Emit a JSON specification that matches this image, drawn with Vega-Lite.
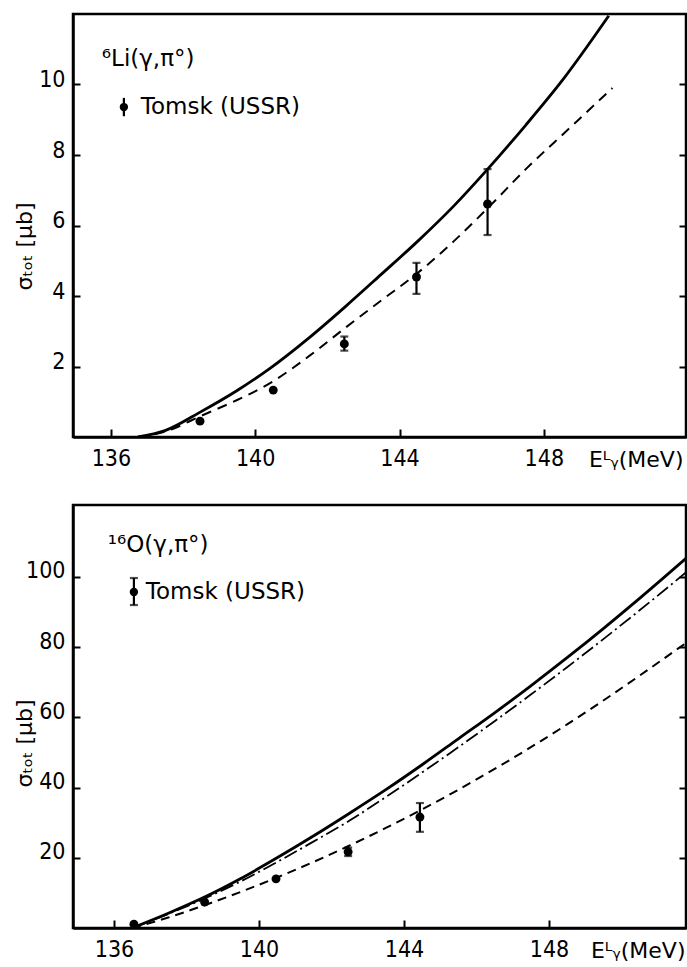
{
  "$schema": "https://vega.github.io/schema/vega-lite/v6.json",
  "padding": {"left": 11, "top": 12, "right": 0, "bottom": 0},
  "background": "white",
  "spacing": 68,
  "bounds": "flush",
  "config": {
    "view": {"stroke": "black", "strokeWidth": 2.5},
    "axis": {
      "grid": false,
      "domainColor": "black",
      "domainWidth": 2.5,
      "tickColor": "black",
      "tickWidth": 2,
      "labelColor": "black",
      "titleColor": "black",
      "labelFont": "Liberation Sans Narrow, DejaVu Sans Condensed, Liberation Sans",
      "labelFontSize": 23,
      "titleFont": "DejaVu Sans",
      "titleFontWeight": "normal"
    },
    "text": {"font": "DejaVu Sans", "color": "black"}
  },
  "datasets": {
    "li_curves": [
      {"c": "solid", "E": 136.75, "s": 0},
      {"c": "solid", "E": 137.5, "s": 0.18},
      {"c": "solid", "E": 138.5, "s": 0.72},
      {"c": "solid", "E": 139.5, "s": 1.32},
      {"c": "solid", "E": 140.4, "s": 1.94},
      {"c": "solid", "E": 141.5, "s": 2.82},
      {"c": "solid", "E": 142.5, "s": 3.7},
      {"c": "solid", "E": 143.5, "s": 4.62},
      {"c": "solid", "E": 144.5, "s": 5.55},
      {"c": "solid", "E": 145.5, "s": 6.55},
      {"c": "solid", "E": 146.4, "s": 7.55},
      {"c": "solid", "E": 147.5, "s": 8.85},
      {"c": "solid", "E": 148.5, "s": 10.1},
      {"c": "solid", "E": 149.8, "s": 11.95},
      {"c": "dashed", "E": 136.75, "s": 0},
      {"c": "dashed", "E": 137.5, "s": 0.15},
      {"c": "dashed", "E": 138.5, "s": 0.6},
      {"c": "dashed", "E": 139.5, "s": 1.05},
      {"c": "dashed", "E": 140.4, "s": 1.52},
      {"c": "dashed", "E": 141.5, "s": 2.3},
      {"c": "dashed", "E": 142.5, "s": 3.1},
      {"c": "dashed", "E": 143.5, "s": 3.88},
      {"c": "dashed", "E": 144.5, "s": 4.65},
      {"c": "dashed", "E": 145.5, "s": 5.55},
      {"c": "dashed", "E": 146.5, "s": 6.55},
      {"c": "dashed", "E": 147.5, "s": 7.6},
      {"c": "dashed", "E": 148.7, "s": 8.75},
      {"c": "dashed", "E": 149.9, "s": 9.9}
    ],
    "li_pts": [
      {"E": 138.47, "s": 0.45},
      {"E": 140.5, "s": 1.33},
      {"E": 142.47, "s": 2.64, "lo": 2.45, "hi": 2.85},
      {"E": 144.47, "s": 4.54, "lo": 4.06, "hi": 4.94},
      {"E": 146.44, "s": 6.61, "lo": 5.73, "hi": 7.6}
    ],
    "li_leg": [
      {"E": 136.36, "s": 9.36, "lo": 9.1, "hi": 9.62}
    ],
    "li_text": [
      {"E": 135.75, "s": 10.72, "t": "⁶Li(γ,π°)"},
      {"E": 136.83, "s": 9.36, "t": "Tomsk (USSR)"}
    ],
    "o_curves": [
      {"c": "solid", "E": 136.5, "s": 0},
      {"c": "solid", "E": 137.5, "s": 4.2},
      {"c": "solid", "E": 138.5, "s": 8.8},
      {"c": "solid", "E": 139.5, "s": 14.1},
      {"c": "solid", "E": 140.5, "s": 20.0},
      {"c": "solid", "E": 141.5, "s": 26.2},
      {"c": "solid", "E": 142.5, "s": 32.7},
      {"c": "solid", "E": 143.5, "s": 39.4},
      {"c": "solid", "E": 144.5, "s": 46.5},
      {"c": "solid", "E": 145.5, "s": 53.9},
      {"c": "solid", "E": 146.5, "s": 61.3},
      {"c": "solid", "E": 147.5, "s": 69.0},
      {"c": "solid", "E": 148.5, "s": 77.0},
      {"c": "solid", "E": 149.5, "s": 85.3},
      {"c": "solid", "E": 150.5, "s": 93.9},
      {"c": "solid", "E": 151.78, "s": 105.3},
      {"c": "dashdot", "E": 136.5, "s": 0},
      {"c": "dashdot", "E": 137.5, "s": 4.0},
      {"c": "dashdot", "E": 138.5, "s": 8.4},
      {"c": "dashdot", "E": 139.5, "s": 13.3},
      {"c": "dashdot", "E": 140.5, "s": 18.8},
      {"c": "dashdot", "E": 141.5, "s": 24.6},
      {"c": "dashdot", "E": 142.5, "s": 30.6},
      {"c": "dashdot", "E": 143.5, "s": 37.3},
      {"c": "dashdot", "E": 144.5, "s": 44.3},
      {"c": "dashdot", "E": 145.5, "s": 51.5},
      {"c": "dashdot", "E": 146.5, "s": 58.9},
      {"c": "dashdot", "E": 147.5, "s": 66.5},
      {"c": "dashdot", "E": 148.5, "s": 74.3},
      {"c": "dashdot", "E": 149.5, "s": 82.3},
      {"c": "dashdot", "E": 150.5, "s": 90.5},
      {"c": "dashdot", "E": 151.78, "s": 101.3},
      {"c": "dashed", "E": 136.5, "s": 0},
      {"c": "dashed", "E": 137.5, "s": 3.0},
      {"c": "dashed", "E": 138.5, "s": 6.5},
      {"c": "dashed", "E": 139.5, "s": 10.3},
      {"c": "dashed", "E": 140.5, "s": 14.4},
      {"c": "dashed", "E": 141.5, "s": 18.8},
      {"c": "dashed", "E": 142.5, "s": 23.5},
      {"c": "dashed", "E": 143.5, "s": 28.5},
      {"c": "dashed", "E": 144.5, "s": 33.8},
      {"c": "dashed", "E": 145.5, "s": 39.4},
      {"c": "dashed", "E": 146.5, "s": 45.3},
      {"c": "dashed", "E": 147.5, "s": 51.5},
      {"c": "dashed", "E": 148.5, "s": 58.0},
      {"c": "dashed", "E": 149.5, "s": 64.8},
      {"c": "dashed", "E": 150.5, "s": 71.9},
      {"c": "dashed", "E": 151.78, "s": 81.2}
    ],
    "o_pts": [
      {"E": 136.55, "s": 1.1},
      {"E": 138.5, "s": 7.4},
      {"E": 140.47, "s": 14.0},
      {"E": 142.46, "s": 21.7, "lo": 20.5, "hi": 22.9},
      {"E": 144.44, "s": 31.6, "lo": 27.4, "hi": 35.6}
    ],
    "o_leg": [
      {"E": 136.55, "s": 95.7, "lo": 92.0, "hi": 99.7}
    ],
    "o_text": [
      {"E": 135.83, "s": 109.1, "t": "¹⁶O(γ,π°)"},
      {"E": 136.88, "s": 95.7, "t": "Tomsk (USSR)"}
    ]
  },
  "vconcat": [
    {
      "width": 613,
      "height": 423,
      "resolve": {"axis": {"y": "independent"}},
      "layer": [
        {
          "data": {"name": "li_curves"},
          "transform": [{"filter": "datum.c === 'dashed'"}],
          "mark": {"type": "line", "color": "black", "strokeWidth": 2, "strokeDash": [10, 7], "interpolate": "monotone", "clip": true},
          "encoding": {
            "x": {"field": "E", "type": "quantitative", "scale": {"domain": [134.95, 151.94], "nice": false, "zero": false},
              "axis": {"values": [136, 140, 144, 148], "tickSize": -8, "labelPadding": 18, "title": "Eᴸᵧ(MeV)", "titleFont": "DejaVu Sans", "titleFontSize": 22, "titleX": 610, "titleY": 22, "titleAlign": "right", "titleBaseline": "middle"}},
            "y": {"field": "s", "type": "quantitative", "scale": {"domain": [0, 12], "nice": false},
              "axis": {"values": [2, 4, 6, 8, 10], "tickSize": -7, "labelPadding": 15, "labelOffset": -5, "title": "σₜₒₜ [μb]", "titleFontSize": 22, "titleX": -49, "titleY": 232, "titleBaseline": "middle", "titleAlign": "center"}}
          }
        },
        {
          "data": {"name": "li_curves"},
          "transform": [{"filter": "datum.c === 'solid'"}],
          "mark": {"type": "line", "color": "black", "strokeWidth": 2.8, "interpolate": "monotone", "clip": true},
          "encoding": {
            "x": {"field": "E", "type": "quantitative", "scale": {"domain": [134.95, 151.94], "nice": false, "zero": false}},
            "y": {"field": "s", "type": "quantitative", "scale": {"domain": [0, 12], "nice": false},
              "axis": {"orient": "right", "values": [2, 4, 6, 8, 10], "tickSize": -7, "labels": false, "domain": false, "title": null}}
          }
        },
        {
          "data": {"name": "li_pts"},
          "transform": [{"filter": "datum.lo != null"}],
          "mark": {"type": "errorbar", "orient": "vertical", "ticks": true, "size": 8, "thickness": 2.2, "color": "black"},
          "encoding": {
            "x": {"field": "E", "type": "quantitative", "scale": {"domain": [134.95, 151.94], "nice": false, "zero": false}},
            "y": {"field": "lo", "type": "quantitative", "scale": {"domain": [0, 12], "nice": false}, "axis": null},
            "y2": {"field": "hi"}
          }
        },
        {
          "data": {"name": "li_pts"},
          "mark": {"type": "point", "filled": true, "shape": "circle", "size": 80, "color": "black", "opacity": 1},
          "encoding": {
            "x": {"field": "E", "type": "quantitative", "scale": {"domain": [134.95, 151.94], "nice": false, "zero": false}},
            "y": {"field": "s", "type": "quantitative", "scale": {"domain": [0, 12], "nice": false}, "axis": null}
          }
        },
        {
          "data": {"name": "li_leg"},
          "mark": {"type": "rule", "color": "black", "strokeWidth": 2.2},
          "encoding": {
            "x": {"field": "E", "type": "quantitative", "scale": {"domain": [134.95, 151.94], "nice": false, "zero": false}},
            "y": {"field": "lo", "type": "quantitative", "scale": {"domain": [0, 12], "nice": false}, "axis": null},
            "y2": {"field": "hi"}
          }
        },
        {
          "data": {"name": "li_leg"},
          "mark": {"type": "point", "filled": true, "shape": "circle", "size": 70, "color": "black", "opacity": 1},
          "encoding": {
            "x": {"field": "E", "type": "quantitative", "scale": {"domain": [134.95, 151.94], "nice": false, "zero": false}},
            "y": {"field": "s", "type": "quantitative", "scale": {"domain": [0, 12], "nice": false}, "axis": null}
          }
        },
        {
          "data": {"name": "li_text"},
          "mark": {"type": "text", "align": "left", "baseline": "middle", "fontSize": 23, "font": "DejaVu Sans", "color": "black"},
          "encoding": {
            "x": {"field": "E", "type": "quantitative", "scale": {"domain": [134.95, 151.94], "nice": false, "zero": false}},
            "y": {"field": "s", "type": "quantitative", "scale": {"domain": [0, 12], "nice": false}, "axis": null},
            "text": {"field": "t"}
          }
        }
      ]
    },
    {
      "width": 613,
      "height": 423,
      "resolve": {"axis": {"y": "independent"}},
      "layer": [
        {
          "data": {"name": "o_curves"},
          "transform": [{"filter": "datum.c === 'dashed'"}],
          "mark": {"type": "line", "color": "black", "strokeWidth": 2, "strokeDash": [9, 6], "interpolate": "monotone", "clip": true},
          "encoding": {
            "x": {"field": "E", "type": "quantitative", "scale": {"domain": [134.87, 151.78], "nice": false, "zero": false},
              "axis": {"values": [136, 140, 144, 148], "tickSize": -8, "labelPadding": 18, "title": "Eᴸᵧ(MeV)", "titleFont": "DejaVu Sans", "titleFontSize": 22, "titleX": 612, "titleY": 22, "titleAlign": "right", "titleBaseline": "middle"}},
            "y": {"field": "s", "type": "quantitative", "scale": {"domain": [0, 120.5], "nice": false},
              "axis": {"values": [20, 40, 60, 80, 100], "tickSize": -7, "labelPadding": 15, "labelOffset": -6, "title": "σₜₒₜ [μb]", "titleFontSize": 22, "titleX": -49, "titleY": 238, "titleBaseline": "middle", "titleAlign": "center"}}
          }
        },
        {
          "data": {"name": "o_curves"},
          "transform": [{"filter": "datum.c === 'solid'"}],
          "mark": {"type": "line", "color": "black", "strokeWidth": 2.8, "interpolate": "monotone", "clip": true},
          "encoding": {
            "x": {"field": "E", "type": "quantitative", "scale": {"domain": [134.87, 151.78], "nice": false, "zero": false}},
            "y": {"field": "s", "type": "quantitative", "scale": {"domain": [0, 120.5], "nice": false},
              "axis": {"orient": "right", "values": [20, 40, 60, 80, 100], "tickSize": -7, "labels": false, "domain": false, "title": null}}
          }
        },
        {
          "data": {"name": "o_curves"},
          "transform": [{"filter": "datum.c === 'dashdot'"}],
          "mark": {"type": "line", "color": "black", "strokeWidth": 1.8, "strokeDash": [14, 4, 2, 4], "interpolate": "monotone", "clip": true},
          "encoding": {
            "x": {"field": "E", "type": "quantitative", "scale": {"domain": [134.87, 151.78], "nice": false, "zero": false}},
            "y": {"field": "s", "type": "quantitative", "scale": {"domain": [0, 120.5], "nice": false}, "axis": null}
          }
        },
        {
          "data": {"name": "o_pts"},
          "transform": [{"filter": "datum.lo != null"}],
          "mark": {"type": "errorbar", "orient": "vertical", "ticks": true, "size": 8, "thickness": 2.2, "color": "black"},
          "encoding": {
            "x": {"field": "E", "type": "quantitative", "scale": {"domain": [134.87, 151.78], "nice": false, "zero": false}},
            "y": {"field": "lo", "type": "quantitative", "scale": {"domain": [0, 120.5], "nice": false}, "axis": null},
            "y2": {"field": "hi"}
          }
        },
        {
          "data": {"name": "o_pts"},
          "mark": {"type": "point", "filled": true, "shape": "circle", "size": 80, "color": "black", "opacity": 1},
          "encoding": {
            "x": {"field": "E", "type": "quantitative", "scale": {"domain": [134.87, 151.78], "nice": false, "zero": false}},
            "y": {"field": "s", "type": "quantitative", "scale": {"domain": [0, 120.5], "nice": false}, "axis": null}
          }
        },
        {
          "data": {"name": "o_leg"},
          "mark": {"type": "errorbar", "orient": "vertical", "ticks": true, "size": 8, "thickness": 2.2, "color": "black"},
          "encoding": {
            "x": {"field": "E", "type": "quantitative", "scale": {"domain": [134.87, 151.78], "nice": false, "zero": false}},
            "y": {"field": "lo", "type": "quantitative", "scale": {"domain": [0, 120.5], "nice": false}, "axis": null},
            "y2": {"field": "hi"}
          }
        },
        {
          "data": {"name": "o_leg"},
          "mark": {"type": "point", "filled": true, "shape": "circle", "size": 70, "color": "black", "opacity": 1},
          "encoding": {
            "x": {"field": "E", "type": "quantitative", "scale": {"domain": [134.87, 151.78], "nice": false, "zero": false}},
            "y": {"field": "s", "type": "quantitative", "scale": {"domain": [0, 120.5], "nice": false}, "axis": null}
          }
        },
        {
          "data": {"name": "o_text"},
          "mark": {"type": "text", "align": "left", "baseline": "middle", "fontSize": 23, "font": "DejaVu Sans", "color": "black"},
          "encoding": {
            "x": {"field": "E", "type": "quantitative", "scale": {"domain": [134.87, 151.78], "nice": false, "zero": false}},
            "y": {"field": "s", "type": "quantitative", "scale": {"domain": [0, 120.5], "nice": false}, "axis": null},
            "text": {"field": "t"}
          }
        }
      ]
    }
  ]
}
